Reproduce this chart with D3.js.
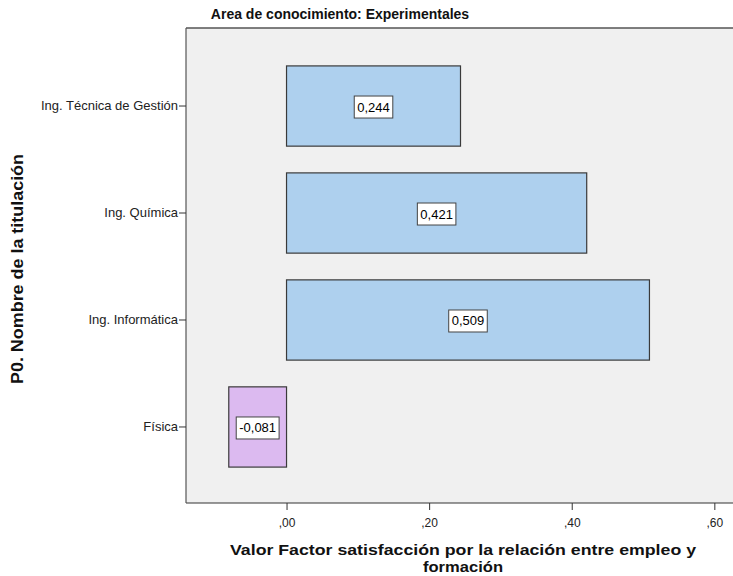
<!DOCTYPE html>
<html><head><meta charset="utf-8">
<script src="https://cdn.jsdelivr.net/npm/d3@7"></script>
<style>body{margin:0;background:#fff;} text{font-family:"Liberation Sans",Arial,sans-serif;}</style>
</head><body>
<svg id="c" width="733" height="576"></svg>
<script>
const categories = ["Ing. Técnica de Gestión", "Ing. Química", "Ing. Informática", "Física"];
const values = [0.244, 0.421, 0.509, -0.081];
const valueLabels = ["0,244", "0,421", "0,509", "-0,081"];
const xTicks = [0, 0.2, 0.4, 0.6];
const xTickLabels = [",00", ",20", ",40", ",60"];
const barColors = ["#aed0ee", "#aed0ee", "#aed0ee", "#dcbaf0"];

const svg = d3.select("#c");
const L = 186, T = 28, R = 740, B = 503;
const x = d3.scaleLinear().domain([-0.141, 0.636]).range([L, R]);
const y = d3.scaleBand().domain(categories).range([T, B]).paddingInner(0.25).paddingOuter(0.345);

svg.append("rect").attr("x", L).attr("y", T).attr("width", R - L).attr("height", B - T)
  .attr("fill", "#f0f0f0");

// bars
svg.selectAll("rect.bar").data(categories).enter().append("rect").attr("class", "bar")
  .attr("x", (d, i) => x(Math.min(0, values[i])))
  .attr("width", (d, i) => Math.abs(x(values[i]) - x(0)))
  .attr("y", d => y(d) + 1)
  .attr("height", y.bandwidth())
  .attr("fill", (d, i) => barColors[i])
  .attr("stroke", "#3a3a3a").attr("stroke-width", 1.2);

// value labels
categories.forEach((c, i) => {
  const cx = (x(values[i]) + x(0)) / 2;
  const cy = y(c) + y.bandwidth() / 2 + 2;
  const g = svg.append("g");
  const t = g.append("text").attr("x", cx).attr("y", cy).attr("text-anchor", "middle")
    .attr("dominant-baseline", "central").attr("font-size", 13).attr("fill", "#000").text(valueLabels[i]);
  const bb = t.node().getBBox();
  g.insert("rect", "text").attr("x", bb.x - 3).attr("y", cy - 11).attr("width", bb.width + 6).attr("height", 22)
    .attr("fill", "#fff").attr("stroke", "#444").attr("stroke-width", 1);
});

// frame
svg.append("line").attr("x1", L).attr("x2", R).attr("y1", T).attr("y2", T).attr("stroke", "#555").attr("stroke-width", 1.5);
svg.append("line").attr("x1", L).attr("x2", R).attr("y1", B).attr("y2", B).attr("stroke", "#333").attr("stroke-width", 1.2);
svg.append("line").attr("x1", L).attr("x2", L).attr("y1", T).attr("y2", B).attr("stroke", "#555").attr("stroke-width", 1.2);

// x axis
const xAxis = d3.axisBottom(x).tickValues(xTicks).tickSize(7).tickFormat((d, i) => xTickLabels[i]);
const gx = svg.append("g").attr("transform", `translate(0,${B})`).call(xAxis);
gx.select(".domain").remove();
gx.selectAll("line").attr("stroke", "#333");
gx.selectAll("text").attr("font-size", 12).attr("fill", "#222").attr("dy", "1.15em")
  .style("font-family", "'Liberation Sans',Arial,sans-serif");

// y axis
const yAxis = d3.axisLeft(y).tickSize(7).tickPadding(1);
const gy = svg.append("g").attr("transform", `translate(${L},1)`).call(yAxis);
gy.select(".domain").remove();
gy.selectAll("line").attr("stroke", "#333");
gy.selectAll("text").attr("font-size", 13).attr("fill", "#222")
  .style("font-family", "'Liberation Sans',Arial,sans-serif");

// titles
svg.append("text").attr("x", 340).attr("y", 19).attr("text-anchor", "middle")
  .attr("font-size", 14).attr("font-weight", "bold").attr("fill", "#111").text("Area de conocimiento: Experimentales");

svg.append("text").attr("x", 463).attr("y", 555).attr("text-anchor", "middle")
  .attr("font-size", 15).attr("font-weight", "bold").attr("fill", "#111")
  .attr("textLength", 466).attr("lengthAdjust", "spacingAndGlyphs")
  .text("Valor Factor satisfacción por la relación entre empleo y");
svg.append("text").attr("x", 463).attr("y", 572).attr("text-anchor", "middle")
  .attr("font-size", 15).attr("font-weight", "bold").attr("fill", "#111")
  .attr("textLength", 80).attr("lengthAdjust", "spacingAndGlyphs")
  .text("formación");

svg.append("text").attr("transform", "translate(23,269) rotate(-90)").attr("text-anchor", "middle")
  .attr("font-size", 16.5).attr("font-weight", "bold").attr("fill", "#111")
  .attr("textLength", 230).attr("lengthAdjust", "spacingAndGlyphs")
  .text("P0. Nombre de la titulación");
</script>
</body></html>
